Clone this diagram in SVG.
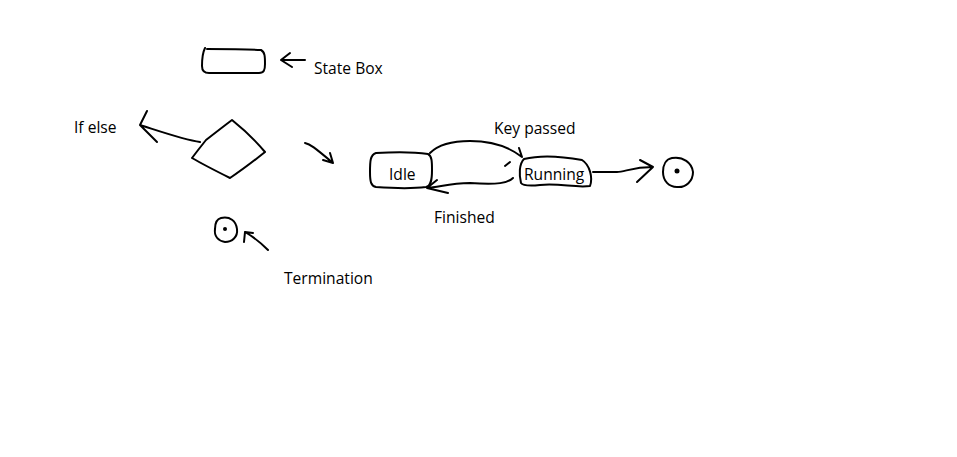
<svg xmlns="http://www.w3.org/2000/svg" width="957" height="457" viewBox="0 0 957 457">
<style>
.s{fill:none;stroke:#000;stroke-width:2;stroke-linecap:round;stroke-linejoin:round}
.t{font-family:"Open Sans","Liberation Sans",sans-serif;font-size:15.6px;fill:#000}
</style>
<rect width="957" height="457" fill="#fff"/>
<g id="legend-state-box">
<path class="s" d="M205,48 C203,52 202,60 202,66 C202,71 204,73 209,73 C225,73 245,73 259,73 C264,73 265,70 265,64 C265,57 265,52 261,50 C245,49 222,49 207,49"/>
<text class="t" x="314" y="74">State Box</text>
</g>
<g id="legend-ifelse">
<path class="s" d="M232,120 C242,128 255,140 265,152 C255,160 242,170 230,178 C218,172 204,165 192,158 C198,150 202,145 206,140 C215,133 224,126 232,120 Z"/>
<text class="t" x="74" y="133">If else</text>
</g>
<g id="legend-termination">
<path class="s" d="M221,218 C230,216 236,221 237,229 C238,237 232,242 225,242 C218,241 214,236 215,229 C215,223 217,219 221,218 Z"/>
<circle cx="225" cy="229" r="2" fill="#000"/>
<text class="t" x="284" y="284">Termination</text>
</g>
<g id="idle">
<path class="s" d="M376,153 C392,152 415,152 428,154 C432,156 432,162 432,170 C432,180 431,186 426,187 C410,189 390,188 376,187 C371,186 370,182 370,172 C370,162 370,155 376,153 Z"/>
<text class="t" x="389" y="180">Idle</text>
</g>
<g id="running">
<path class="s" d="M524,159 C540,155 560,156 582,160 C590,165 593,178 590,186 C575,188 560,183 540,185 C530,186 523,186 521,183 C519,175 519,164 524,159 Z"/>
<text class="t" x="524" y="180">Running</text>
</g>
<g id="end">
<path class="s" d="M672,158 C683,156 692,163 693,172 C693,181 686,188 677,187 C669,187 663,181 663,172 C663,165 666,159 672,158 Z"/>
<circle cx="677" cy="171" r="2.5" fill="#000"/>
</g>
<g id="connectors">
<path class="s" d="M305,60 L281,60 M281,60 L290,53 M281,60 L292,67"/>
<path class="s" d="M200,142 C185,140 165,133 140,125 M140,125 L147,111 M140,125 L157,142"/>
<path class="s" d="M305,143 C310,144 314,147 333,163 M333,163 L323,160 M333,163 L330,153"/>
<path class="s" d="M268,250 C260,242 252,236 245,232 M245,232 L244,242 M245,232 L253,233"/>
<path class="s" d="M430,153 C437,146 450,141 470,141 C490,141 508,146 522,157 M522,157 L519,148 M510,162 L505,166"/>
<path class="s" d="M513,178 C508,183 498,185 470,183 C450,183 440,187 427,188 M427,188 L437,180 M427,188 L448,193"/>
<path class="s" d="M593,172 L617,172 C625,172 632,167 653,167 M653,167 L640,160 M653,167 L637,182"/>
<text class="t" x="494" y="134">Key passed</text>
<text class="t" x="434" y="223">Finished</text>
</g>
</svg>
